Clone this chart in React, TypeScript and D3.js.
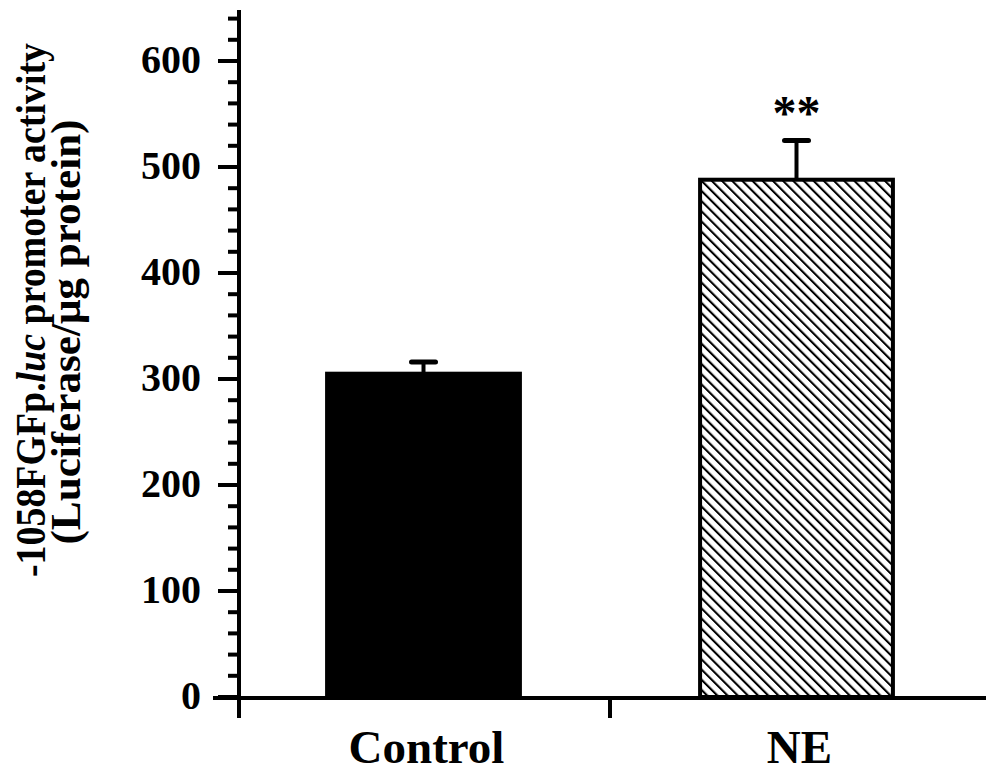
import React from "react";
import * as d3 from "d3";

const categories = ["Control", "NE"];
const means = [305, 488];
const errors = [11, 37];
const significance = ["", "**"];
const yTicks = [0, 100, 200, 300, 400, 500, 600];

const W = 986;
const H = 775;

export default function App() {
  const x = d3.scaleBand<string>().domain(categories).range([237, 983]).paddingInner(0.483).paddingOuter(0.2415);
  const y = d3.scaleLinear().domain([0, 600]).range([697, 61]);
  const minor = d3.range(0, 641, 20).filter((v) => v % 100 !== 0);
  const font = "'Liberation Serif', 'Times New Roman', serif";
  const axisX = 239;
  const axisY = y(0);
  return (
    <svg width={W} height={H} style={{ position: "absolute", left: 0, top: 0, background: "#fff" }}>
      <defs>
        <pattern id="hatch" patternUnits="userSpaceOnUse" width="7.2" height="7.2" patternTransform="rotate(-45)">
          <rect width="7.2" height="7.2" fill="#fff" />
          <line x1="0" y1="0" x2="0" y2="7.2" stroke="#000" strokeWidth="4.2" />
        </pattern>
      </defs>
      {/* bars */}
      {categories.map((c, i) => {
        const x0 = x(c)!;
        const bw = x.bandwidth();
        const cx = x0 + bw / 2;
        const top = y(means[i]);
        const errTop = y(means[i] + errors[i]);
        return (
          <g key={c}>
            <line x1={cx} x2={cx} y1={top} y2={errTop} stroke="#000" strokeWidth={4} />
            <line x1={cx - 12} x2={cx + 12} y1={errTop} y2={errTop} stroke="#000" strokeWidth={5} strokeLinecap="round" />
            <rect
              x={x0}
              y={top}
              width={bw}
              height={axisY - top}
              fill={i === 0 ? "#000" : "url(#hatch)"}
              stroke="#000"
              strokeWidth={4}
            />
            {significance[i] && (
              <text x={cx} y={errTop - 12} textAnchor="middle" fontFamily={font} fontWeight="bold" fontSize={48}>
                {significance[i]}
              </text>
            )}
            <text x={cx + 3} y={763} textAnchor="middle" fontFamily={font} fontWeight="bold" fontSize={47}>
              {c}
            </text>
          </g>
        );
      })}
      {/* y axis */}
      <line x1={axisX} x2={axisX} y1={10} y2={718} stroke="#000" strokeWidth={4} />
      {yTicks.map((t) => (
        <g key={t}>
          <line x1={218} x2={axisX} y1={y(t)} y2={y(t)} stroke="#000" strokeWidth={4} />
          <text x={201} y={y(t) + 12} textAnchor="end" fontFamily={font} fontWeight="bold" fontSize={40}>
            {t}
          </text>
        </g>
      ))}
      {minor.map((t) => (
        <line key={t} x1={228} x2={axisX} y1={y(t)} y2={y(t)} stroke="#000" strokeWidth={4} />
      ))}
      {/* x axis */}
      <line x1={213} x2={986} y1={axisY + 1} y2={axisY + 1} stroke="#000" strokeWidth={4} />
      <line x1={610} x2={610} y1={axisY} y2={718} stroke="#000" strokeWidth={4} />
      {/* y label */}
      <text
        transform="translate(45,310) rotate(-90)"
        textAnchor="middle"
        fontFamily={font}
        fontWeight="bold"
        fontSize={42}
        textLength={534}
        lengthAdjust="spacingAndGlyphs"
      >
        -1058FGFp.<tspan fontStyle="italic">luc</tspan> promoter activity
      </text>
      <text
        transform="translate(80,332) rotate(-90)"
        textAnchor="middle"
        fontFamily={font}
        fontWeight="bold"
        fontSize={42}
        textLength={425}
        lengthAdjust="spacingAndGlyphs"
      >
        (Luciferase/μg protein)
      </text>
    </svg>
  );
}
